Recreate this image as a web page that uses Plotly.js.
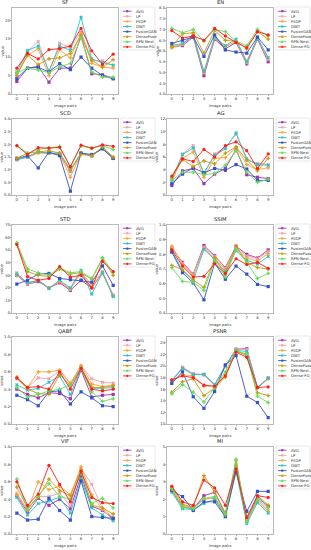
<!DOCTYPE html>
<html><head><meta charset="utf-8">
<script src="https://cdn.plot.ly/plotly-3.0.1.min.js"></script>
<style>html,body{margin:0;padding:0;background:#fff}#chart{width:311px;height:550px}</style>
</head><body><div id="chart"></div>
<script>
// ---- data ----
const metrics = ['SF','EN','SCD','AG','STD','SSIM','QABF','PSNR','VIF','MI'];
const series = ['AVG','LP','FSDP','DWT','FusionGAN','DenseFuse','RFN-Nest','Dense-FG'];
const pairs = [0,1,2,3,4,5,6,7,8,9];
const xTickLabels = ['0','1','2','3','4','5','6','7','8','9'];

// rows follow the series order: AVG, LP, FSDP, DWT, FusionGAN, DenseFuse, RFN-Nest, Dense-FG
const SF = [
  [3.4, 7.0, 7.5, 3.2, 7.0, 7.0, 15.8, 5.5, 5.2, 4.3],
  [5.0, 11.5, 14.2, 6.0, 13.8, 12.5, 16.8, 9.0, 9.0, 7.8],
  [5.5, 10.5, 12.2, 5.0, 12.0, 9.8, 16.5, 8.3, 7.3, 7.0],
  [6.0, 11.8, 13.0, 6.2, 13.0, 11.8, 20.8, 9.5, 8.5, 7.8],
  [4.2, 7.0, 7.2, 6.0, 8.2, 6.6, 10.0, 7.0, 5.0, 4.1],
  [5.0, 10.5, 8.0, 9.5, 9.8, 11.0, 15.8, 9.2, 7.2, 9.3],
  [5.8, 7.0, 6.5, 5.8, 7.3, 8.3, 15.3, 6.0, 4.6, 4.5],
  [7.0, 11.0, 9.5, 12.0, 12.3, 13.0, 17.8, 11.7, 8.0, 10.8]
];
const EN = [
  [6.2, 6.25, 6.65, 4.85, 6.55, 6.1, 6.4, 5.4, 6.55, 5.5],
  [6.2, 6.3, 6.7, 5.0, 6.6, 6.2, 6.45, 5.45, 6.6, 5.6],
  [6.15, 6.3, 6.8, 5.0, 6.6, 6.2, 6.45, 5.5, 6.6, 5.65],
  [6.25, 6.35, 6.7, 5.05, 6.65, 6.25, 6.55, 5.5, 6.6, 5.7],
  [6.35, 6.5, 6.65, 5.75, 6.75, 6.05, 5.95, 5.9, 6.65, 6.05],
  [6.2, 6.8, 6.85, 5.9, 6.95, 6.5, 6.45, 6.1, 6.9, 6.55],
  [7.05, 6.85, 7.0, 6.45, 7.0, 6.9, 6.45, 6.25, 7.0, 6.7],
  [6.95, 6.6, 6.7, 6.5, 7.05, 6.7, 6.4, 6.15, 6.9, 6.75]
];
const SCD = [
  [1.4, 1.5, 1.7, 1.65, 1.6, 0.95, 1.65, 1.55, 1.85, 1.45],
  [1.4, 1.5, 1.7, 1.65, 1.6, 0.95, 1.65, 1.55, 1.85, 1.45],
  [1.4, 1.5, 1.65, 1.65, 1.6, 0.7, 1.65, 1.55, 1.85, 1.45],
  [1.4, 1.5, 1.7, 1.65, 1.65, 1.0, 1.65, 1.55, 1.85, 1.45],
  [1.45, 1.55, 1.07, 1.7, 1.55, 0.15, 1.65, 1.6, 1.82, 1.45],
  [1.45, 1.65, 1.7, 1.75, 1.65, 1.0, 1.6, 1.55, 1.9, 1.5],
  [1.95, 1.65, 1.8, 1.85, 1.92, 1.1, 1.93, 1.85, 1.95, 1.8],
  [1.95, 1.6, 1.87, 1.85, 1.88, 1.12, 1.97, 1.85, 1.98, 1.92]
];
const AG = [
  [1.5, 3.8, 4.2, 1.8, 3.3, 4.2, 7.2, 3.2, 2.8, 2.6],
  [2.0, 6.5, 7.8, 3.2, 6.5, 7.5, 9.6, 5.5, 5.0, 4.8],
  [2.3, 5.8, 6.8, 2.8, 5.8, 5.9, 7.5, 4.8, 4.0, 4.3],
  [2.5, 6.4, 7.4, 3.5, 6.3, 7.3, 9.8, 5.7, 4.8, 4.7],
  [1.8, 3.3, 4.3, 3.5, 4.2, 3.9, 4.8, 4.1, 2.3, 2.3],
  [2.8, 5.6, 4.5, 5.4, 4.9, 6.6, 7.6, 5.5, 3.8, 5.8],
  [2.3, 3.6, 3.6, 3.2, 3.4, 4.7, 7.0, 3.6, 2.0, 2.5],
  [3.0, 5.7, 5.3, 7.2, 6.0, 7.8, 8.4, 7.0, 4.2, 6.5]
];
const STD = [
  [30, 23, 25, 20, 24, 18, 26, 20, 32, 14],
  [32, 23, 26, 20, 25, 19, 33, 22, 33, 14],
  [30, 24, 26, 20, 25, 19, 32, 20, 32, 14],
  [31, 24, 26, 19.5, 26, 20, 34, 15, 32, 13],
  [23, 26, 31, 31.5, 27.5, 26.5, 26, 24.5, 37.5, 22],
  [55, 33, 30, 29, 35, 31, 32, 27, 43, 30],
  [56, 35, 32, 30, 36, 32, 33, 27.5, 44, 32.5],
  [54.5, 29, 26, 27.5, 37, 28.5, 30, 20, 41, 33]
];
const SSIM = [
  [0.84, 0.745, 0.665, 0.86, 0.79, 0.71, 0.855, 0.8, 0.775, 0.83],
  [0.85, 0.74, 0.66, 0.85, 0.785, 0.705, 0.845, 0.79, 0.77, 0.82],
  [0.855, 0.73, 0.655, 0.84, 0.775, 0.695, 0.84, 0.775, 0.755, 0.805],
  [0.825, 0.69, 0.62, 0.835, 0.765, 0.68, 0.825, 0.76, 0.735, 0.785],
  [0.815, 0.675, 0.605, 0.49, 0.74, 0.63, 0.72, 0.665, 0.595, 0.58],
  [0.725, 0.695, 0.625, 0.575, 0.775, 0.66, 0.855, 0.745, 0.71, 0.7],
  [0.71, 0.615, 0.61, 0.555, 0.755, 0.645, 0.835, 0.745, 0.635, 0.67],
  [0.83, 0.72, 0.645, 0.65, 0.735, 0.67, 0.77, 0.73, 0.745, 0.705]
];
const QABF = [
  [0.4, 0.34, 0.3, 0.36, 0.35, 0.29, 0.62, 0.31, 0.33, 0.34],
  [0.52, 0.42, 0.53, 0.52, 0.61, 0.46, 0.67, 0.52, 0.48, 0.47],
  [0.54, 0.42, 0.6, 0.6, 0.62, 0.47, 0.67, 0.46, 0.43, 0.45],
  [0.45, 0.39, 0.41, 0.48, 0.55, 0.34, 0.63, 0.41, 0.41, 0.42],
  [0.33, 0.28, 0.21, 0.37, 0.38, 0.23, 0.37, 0.3, 0.21, 0.2],
  [0.53, 0.4, 0.35, 0.34, 0.57, 0.44, 0.65, 0.42, 0.42, 0.44],
  [0.42, 0.31, 0.34, 0.38, 0.4, 0.45, 0.64, 0.37, 0.26, 0.29],
  [0.53, 0.42, 0.43, 0.4, 0.6, 0.4, 0.64, 0.4, 0.38, 0.4]
];
const PSNR = [
  [17.5, 19.7, 18.6, 18.5, 16.7, 20.0, 22.9, 23.0, 16.3, 17.9],
  [17.5, 19.8, 18.6, 18.5, 16.7, 19.8, 22.9, 22.9, 16.3, 17.9],
  [17.5, 18.5, 18.3, 16.5, 16.6, 18.5, 22.5, 22.0, 16.2, 17.8],
  [17.4, 19.6, 18.5, 18.6, 16.8, 20.0, 22.7, 22.5, 16.3, 17.9],
  [17.0, 19.0, 14.7, 12.7, 15.6, 20.2, 21.8, 14.8, 13.7, 11.1],
  [15.5, 17.3, 17.8, 14.9, 16.2, 18.1, 22.6, 21.8, 15.4, 14.9],
  [15.2, 16.8, 15.5, 13.8, 16.3, 19.0, 22.7, 22.0, 14.8, 13.7],
  [17.6, 18.3, 18.0, 16.7, 16.5, 18.3, 22.4, 21.5, 16.3, 16.4]
];
const VIF = [
  [0.44, 0.25, 0.41, 0.33, 0.4, 0.29, 0.67, 0.32, 0.27, 0.18],
  [0.47, 0.28, 0.43, 0.43, 0.47, 0.32, 0.75, 0.57, 0.29, 0.19],
  [0.45, 0.27, 0.6, 0.51, 0.55, 0.45, 0.77, 0.45, 0.28, 0.16],
  [0.42, 0.22, 0.35, 0.38, 0.42, 0.24, 0.63, 0.3, 0.22, 0.15],
  [0.24, 0.16, 0.17, 0.41, 0.27, 0.16, 0.61, 0.2, 0.19, 0.18],
  [0.54, 0.3, 0.42, 0.63, 0.5, 0.44, 0.74, 0.33, 0.3, 0.23],
  [0.63, 0.28, 0.44, 0.58, 0.43, 0.4, 0.7, 0.35, 0.41, 0.3],
  [0.6, 0.33, 0.46, 0.79, 0.57, 0.37, 0.72, 0.42, 0.36, 0.35]
];
const MI = [
  [2.5, 1.55, 1.45, 2.2, 2.4, 1.15, 3.9, 0.8, 2.1, 1.6],
  [2.55, 1.65, 1.5, 2.0, 2.1, 1.1, 4.0, 0.75, 1.95, 1.35],
  [2.5, 1.6, 1.45, 2.0, 2.05, 1.1, 3.85, 0.7, 1.9, 1.3],
  [2.4, 1.45, 1.4, 1.75, 2.0, 1.0, 3.6, 0.6, 1.8, 1.2],
  [2.5, 2.15, 1.35, 1.85, 1.85, 1.0, 3.6, 1.3, 2.45, 2.45],
  [2.7, 1.7, 1.55, 3.35, 2.4, 1.2, 4.2, 0.9, 2.2, 1.65],
  [2.6, 1.55, 1.45, 2.05, 2.15, 1.1, 4.3, 0.7, 2.0, 1.5],
  [2.75, 1.85, 1.65, 3.1, 2.65, 1.65, 3.75, 0.95, 2.2, 2.1]
];
const metricData = [SF, EN, SCD, AG, STD, SSIM, QABF, PSNR, VIF, MI];

// y tick values per metric
const yTicks = [
  [0,5,10,15,20],
  [4.0,4.5,5.0,5.5,6.0,6.5,7.0,7.5,8.0],
  [0.0,0.5,1.0,1.5,2.0,2.5,3.0],
  [0,2,4,6,8,10,12],
  [0,10,20,30,40,50,60,70],
  [0.4,0.5,0.6,0.7,0.8,0.9,1.0],
  [0.0,0.2,0.4,0.6,0.8,1.0],
  [10,12,14,16,18,20,22,24],
  [0.0,0.2,0.4,0.6,0.8,1.0],
  [0,1,2,3,4,5]
];
const yTickFmt = ['d','.1f','.1f','d','d','.1f','.1f','d','.1f','d'];
const yRanges = [[0,23.3],[4,8],[0,3],[0,12],[0,70],[0.4,1.0],[0,1],[10,25],[0,1],[0,5]];

// ---- style ----
const colors = ['#a035b0','#eda3ab','#ffa033','#27c4c8','#3552c8','#c99a12','#66dd5a','#ff1c1c'];
const symbols = ['square','x','cross','x','square','cross','cross','circle'];
const W = 311, H = 550;
const colX = [[12,118],[167,273]];
const rowY = [[8,94],[119,195],[225,313],[337,424],[447,534]];
const fx = p => p / W;
const fy = p => 1 - p / H;

const traces = [];
const layout = {
  width: W, height: H,
  margin: {l:0, r:0, t:0, b:0},
  paper_bgcolor: '#fff', plot_bgcolor: '#fff',
  showlegend: false,
  font: {family: 'DejaVu Sans, sans-serif', size: 4, color: '#333'},
  annotations: [], shapes: []
};

metrics.forEach((m, k) => {
  const r = Math.floor(k / 2), c = k % 2;
  const n = k + 1;
  const xk = 'xaxis' + (n > 1 ? n : ''), yk = 'yaxis' + (n > 1 ? n : '');
  const xr = 'x' + (n > 1 ? n : ''), yr = 'y' + (n > 1 ? n : '');
  const [L, R] = colX[c];
  const [T, B] = rowY[r];
  const axCommon = {
    showgrid: false, zeroline: false, showline: true, mirror: true,
    linecolor: '#8a8a8a', linewidth: 0.6,
    ticks: 'outside', ticklen: 1.5, tickwidth: 0.5, tickcolor: '#666',
    ticklabelstandoff: -1,
    tickfont: {size: 3.8, color: '#333'}, fixedrange: true
  };
  layout[xk] = Object.assign({}, axCommon, {
    domain: [fx(L), fx(R)], anchor: yr, range: [-0.45, 9.45],
    tickmode: 'array', tickvals: pairs, ticktext: xTickLabels
  });
  layout[yk] = Object.assign({}, axCommon, {
    domain: [fy(B), fy(T)], anchor: xr, range: yRanges[k],
    tickmode: 'array', tickvals: yTicks[k], tickformat: yTickFmt[k]
  });
  const data = metricData[k];
  series.forEach((s, i) => {
    traces.push({
      type: 'scatter', mode: 'lines+markers', name: s,
      x: pairs, y: data[i], xaxis: xr, yaxis: yr,
      line: {color: colors[i], width: 0.9},
      marker: {color: colors[i], size: 3.2, symbol: symbols[i], line: {width: 0}},
      hoverinfo: 'skip'
    });
  });
  // title
  layout.annotations.push({
    text: m, xref: 'paper', yref: 'paper', x: fx((L + R) / 2), y: fy(T - 0.8),
    xanchor: 'center', yanchor: 'bottom', showarrow: false,
    font: {size: 5.2, color: '#222'}
  });
  // axis titles
  layout.annotations.push({
    text: 'value', xref: 'paper', yref: 'paper', x: fx(L - 10.5), y: fy((T + B) / 2),
    xanchor: 'center', yanchor: 'middle', textangle: -90, showarrow: false,
    font: {size: 3.8, color: '#333'}
  });
  layout.annotations.push({
    text: 'image pairs', xref: 'paper', yref: 'paper', x: fx((L + R) / 2), y: fy(B + 7),
    xanchor: 'center', yanchor: 'top', showarrow: false,
    font: {size: 3.8, color: '#333'}
  });
  // legend box (drawn from the series names)
  const lx = R + 3, lt = T - 1, lw = 34, lh = 43;
  layout.shapes.push({
    type: 'rect', xref: 'paper', yref: 'paper',
    x0: fx(lx), x1: fx(lx + lw), y0: fy(lt), y1: fy(lt + lh),
    line: {color: '#d0d0d0', width: 0.5}, fillcolor: 'rgba(255,255,255,0.9)'
  });
  series.forEach((s, i) => {
    const ey = lt + 4.2 + 5.1 * i;
    layout.shapes.push({
      type: 'line', xref: 'paper', yref: 'paper',
      x0: fx(lx + 2), x1: fx(lx + 10.5), y0: fy(ey), y1: fy(ey),
      line: {color: colors[i], width: 0.9}
    });
    layout.shapes.push({
      type: symbols[i] === 'circle' ? 'circle' : 'rect', xref: 'paper', yref: 'paper',
      x0: fx(lx + 5.2), x1: fx(lx + 7.3), y0: fy(ey - 1.05), y1: fy(ey + 1.05),
      line: {width: 0}, fillcolor: colors[i]
    });
    layout.annotations.push({
      text: s, xref: 'paper', yref: 'paper', x: fx(lx + 12.5), y: fy(ey),
      xanchor: 'left', yanchor: 'middle', showarrow: false,
      font: {size: 3.8, color: '#333'}
    });
  });
});

Plotly.newPlot('chart', traces, layout, {staticPlot: true, displayModeBar: false});
</script>
</body></html>
